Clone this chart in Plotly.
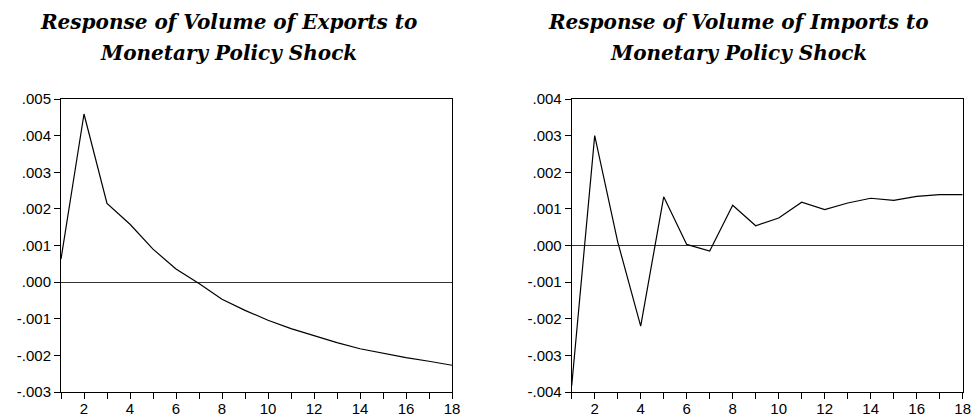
import plotly.graph_objects as go

# Impulse-response horizons
periods = list(range(1, 19))

# Response of export volume to a monetary policy shock
exports_response = [0.00063, 0.00459, 0.00215, 0.00158, 0.00090, 0.00036, -0.00004,
                    -0.00047, -0.00077, -0.00104, -0.00127, -0.00147, -0.00165,
                    -0.00182, -0.00195, -0.00206, -0.00216, -0.00227]

# Response of import volume to a monetary policy shock
imports_response = [-0.00383, 0.00300, 0.00010, -0.00220, 0.00133, 0.00003, -0.00015,
                    0.00110, 0.00054, 0.00075, 0.00118, 0.00098, 0.00116,
                    0.00129, 0.00123, 0.00134, 0.00139, 0.00139]

exports_ticks = [0.005, 0.004, 0.003, 0.002, 0.001, 0.0, -0.001, -0.002, -0.003]
exports_tick_labels = [".005", ".004", ".003", ".002", ".001", ".000", "-.001", "-.002", "-.003"]
imports_ticks = [0.004, 0.003, 0.002, 0.001, 0.0, -0.001, -0.002, -0.003, -0.004]
imports_tick_labels = [".004", ".003", ".002", ".001", ".000", "-.001", "-.002", "-.003", "-.004"]
x_tick_labels = [str(p) if p % 2 == 0 else "" for p in periods]

title_lines = [["Response of Volume of Exports to", "Monetary Policy Shock"],
               ["Response of Volume of Imports to", "Monetary Policy Shock"]]

W, H = 973, 417
fig = go.Figure()

fig.add_trace(go.Scatter(x=periods, y=exports_response, mode="lines",
                         line=dict(color="black", width=1.2), xaxis="x", yaxis="y",
                         showlegend=False, hoverinfo="x+y"))
fig.add_trace(go.Scatter(x=periods, y=imports_response, mode="lines",
                         line=dict(color="black", width=1.2), xaxis="x2", yaxis="y2",
                         showlegend=False, hoverinfo="x+y"))

tick_font = dict(family="Liberation Sans, Arial, sans-serif", size=15, color="black")

y_dom = [1 - 392 / H, 1 - 99 / H]
x_dom_left = [61 / W, 452 / W]
x_dom_right = [571.7 / W, 962.7 / W]

common_x = dict(range=[1, 18], tickmode="array", tickvals=periods, ticktext=x_tick_labels,
                ticks="outside", ticklen=6, tickwidth=1, tickcolor="black",
                ticklabelstandoff=-3,
                showline=True, linecolor="black", linewidth=1, mirror=True,
                showgrid=False, zeroline=False, tickfont=tick_font, automargin=False)
common_y = dict(ticks="outside", ticklen=6, tickwidth=1, tickcolor="black",
                showline=True, linecolor="black", linewidth=1, mirror=True,
                showgrid=False, zeroline=True, zerolinecolor="#333333", zerolinewidth=1.2,
                tickfont=tick_font, automargin=False, tickmode="array")

fig.update_layout(
    width=W, height=H,
    margin=dict(l=0, r=0, t=0, b=0),
    paper_bgcolor="white", plot_bgcolor="white",
    xaxis=dict(domain=x_dom_left, anchor="y", **common_x),
    yaxis=dict(domain=y_dom, anchor="x", range=[-0.003, 0.005],
               tickvals=exports_ticks, ticktext=exports_tick_labels, **common_y),
    xaxis2=dict(domain=x_dom_right, anchor="y2", **common_x),
    yaxis2=dict(domain=y_dom, anchor="x2", range=[-0.004, 0.004],
                tickvals=imports_ticks, ticktext=imports_tick_labels, **common_y),
)

# Two-line titles, each line placed separately for the wider line spacing
title_font = dict(family="DejaVu Serif, serif", size=20, color="black")
for cx, lines in [(228 / W, title_lines[0]), (738 / W, title_lines[1])]:
    for cy, line in zip([22, 53], lines):
        fig.add_annotation(x=cx, y=1 - cy / H, xref="paper", yref="paper",
                           xanchor="center", yanchor="middle", showarrow=False,
                           text="<b><i>" + line + "</i></b>", font=title_font)

fig.write_html("out.html")
